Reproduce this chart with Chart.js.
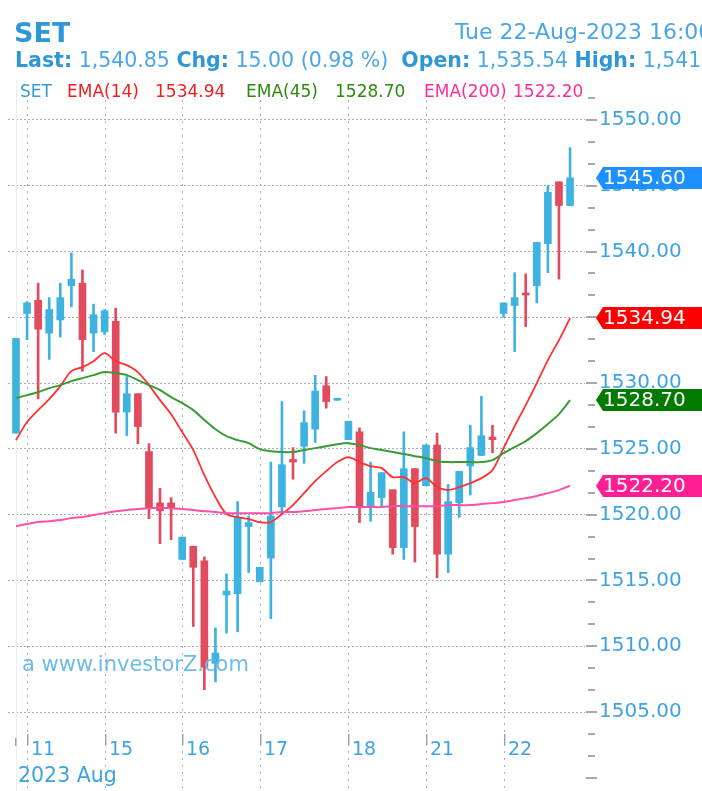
<!DOCTYPE html>
<html>
<head>
<meta charset="utf-8">
<script src="https://cdn.jsdelivr.net/npm/chart.js@4"></script>
<style>
  html, body { margin:0; padding:0; background:#fff; width:702px; height:791px; overflow:hidden; }
  body { position:relative; font-family:"DejaVu Sans", Verdana, sans-serif; }
  #chart { position:absolute; left:0; top:0; }
  .hdr { position:absolute; white-space:nowrap; overflow:hidden; }
  #title { left:14px; top:17px; font-size:27px; font-weight:bold; color:#2f97d8; }
  #stamp { left:455px; top:19px; font-size:22px; color:#4aa6e6; }
  #quote { left:15px; top:48px; font-size:20.5px; color:#4aa6e6; width:690px; }
  #quote b { color:#2f97d8; }
  #legend { left:0; top:81px; width:586px; height:24px; font-size:17px; }
  #legend span { position:absolute; top:0; }
  #mark { left:22px; top:652px; font-size:21px; color:#6dbbe8; }
</style>
</head>
<body>
<canvas id="chart" width="702" height="791"></canvas>
<div class="hdr" id="title">SET</div>
<div class="hdr" id="stamp">Tue 22-Aug-2023 16:00</div>
<div class="hdr" id="quote"><b>Last:</b> 1,540.85 <b>Chg:</b> 15.00 (0.98 %) &nbsp;<b>Open:</b> 1,535.54 <b>High:</b> 1,541.20</div>
<div class="hdr" id="legend">
  <span style="left:20px;color:#3a9ad9">SET</span>
  <span style="left:67px;color:#f02020">EMA(14)</span>
  <span style="left:155px;color:#f02020">1534.94</span>
  <span style="left:246px;color:#2e8a10">EMA(45)</span>
  <span style="left:335px;color:#2e8a10">1528.70</span>
  <span style="left:424px;color:#ff2d95">EMA(200)</span>
  <span style="left:513px;color:#ff2d95">1522.20</span>
</div>
<div class="hdr" id="mark">a www.investorZ.com</div>
<script>
// ================= DATA =================
const dayLabels = ["11", "15", "16", "17", "18", "21", "22"];
const dayStart = [1, 8, 15, 22, 30, 37, 44]; // candle index where each day starts
const monthLabel = "2023 Aug";
const yTicks = [1505, 1510, 1515, 1520, 1525, 1530, 1535, 1540, 1545, 1550];

const opens = [1526.2, 1535.3, 1536.3, 1533.8, 1534.8, 1537.4, 1537.6, 1533.8, 1533.9, 1534.7,
  1527.8, 1529.2, 1524.8, 1520.9, 1520.9, 1516.6, 1517.6, 1516.5, 1508.7, 1513.9,
  1514.0, 1519.1, 1514.9, 1516.7, 1520.6, 1524.2, 1525.2, 1526.5, 1529.8, 1528.7,
  1525.7, 1526.3, 1520.6, 1521.3, 1521.9, 1517.5, 1523.5, 1522.2, 1525.3, 1517.0,
  1520.9, 1523.7, 1524.5, 1525.9, 1535.3, 1535.9, 1536.8, 1537.4, 1540.6, 1545.3, 1543.5];
const highs = [1533.4, 1536.2, 1537.6, 1536.5, 1537.6, 1539.9, 1538.6, 1536.0, 1535.6, 1535.7,
  1530.5, 1529.2, 1525.4, 1522.0, 1521.3, 1518.3, 1517.6, 1516.8, 1511.4, 1515.5,
  1521.0, 1519.9, 1516.0, 1524.0, 1528.6, 1525.1, 1527.9, 1530.6, 1530.5, 1528.8,
  1527.1, 1526.6, 1524.0, 1523.2, 1521.9, 1526.3, 1523.5, 1525.3, 1526.2, 1522.3,
  1523.3, 1526.8, 1529.0, 1526.8, 1536.1, 1538.4, 1538.3, 1540.7, 1545.0, 1545.3, 1547.9];
const lows = [1526.2, 1533.3, 1528.8, 1531.8, 1533.5, 1535.8, 1530.9, 1532.4, 1533.7, 1526.2,
  1526.0, 1525.4, 1519.7, 1517.8, 1518.1, 1516.6, 1511.5, 1506.7, 1507.3, 1511.0,
  1511.1, 1515.6, 1514.9, 1512.1, 1520.0, 1522.7, 1523.9, 1525.5, 1528.1, 1528.7,
  1525.7, 1519.4, 1519.5, 1520.6, 1517.0, 1516.6, 1516.4, 1522.2, 1515.2, 1515.6,
  1519.8, 1521.5, 1524.5, 1524.7, 1535.0, 1532.4, 1534.3, 1536.1, 1538.4, 1537.9, 1543.5];
const closes = [1533.4, 1536.1, 1534.1, 1535.6, 1536.5, 1537.9, 1533.3, 1535.2, 1535.5, 1527.8,
  1529.2, 1526.7, 1520.5, 1520.3, 1520.5, 1518.3, 1516.0, 1508.4, 1509.5, 1514.2,
  1519.8, 1519.4, 1516.0, 1519.9, 1523.8, 1524.0, 1527.0, 1529.4, 1528.6, 1528.8,
  1527.1, 1520.6, 1521.7, 1523.2, 1517.5, 1523.5, 1519.1, 1525.3, 1517.0, 1521.0,
  1523.3, 1525.1, 1526.0, 1525.7, 1536.1, 1536.5, 1536.7, 1540.7, 1544.5, 1543.5, 1545.6];

const ema14 = [1525.67, 1527.04, 1527.95, 1528.78, 1529.77, 1530.91, 1531.22, 1531.67, 1532.28, 1531.67,
  1531.37, 1530.84, 1529.85, 1528.71, 1527.64, 1526.28, 1524.91, 1523.01, 1521.34, 1520.05,
  1519.82, 1519.67, 1519.44, 1519.44, 1520.05, 1520.73, 1521.64, 1522.55, 1523.31, 1524.00,
  1524.38, 1524.00, 1523.69, 1523.54, 1522.86, 1522.86, 1522.40, 1522.78, 1522.10, 1521.87,
  1522.10, 1522.40, 1522.78, 1523.39, 1525.06, 1526.73, 1528.33, 1530.00, 1531.75, 1533.27, 1534.94];
const ema45 = [1528.86, 1529.09, 1529.32, 1529.62, 1529.85, 1530.15, 1530.38, 1530.61, 1530.84, 1530.76,
  1530.61, 1530.23, 1529.85, 1529.47, 1528.94, 1528.48, 1527.95, 1527.19, 1526.50, 1525.97,
  1525.67, 1525.44, 1524.98, 1524.83, 1524.76, 1524.76, 1524.91, 1525.06, 1525.21, 1525.36,
  1525.44, 1525.29, 1525.06, 1524.91, 1524.76, 1524.61, 1524.45, 1524.30, 1524.07, 1524.00,
  1524.00, 1524.00, 1524.00, 1524.15, 1524.68, 1525.14, 1525.59, 1526.20, 1526.89, 1527.64, 1528.70];
const ema200 = [1519.13, 1519.29, 1519.44, 1519.51, 1519.59, 1519.74, 1519.82, 1519.97, 1520.12, 1520.27,
  1520.35, 1520.43, 1520.50, 1520.50, 1520.50, 1520.43, 1520.35, 1520.27, 1520.20, 1520.12,
  1520.12, 1520.12, 1520.12, 1520.12, 1520.20, 1520.20, 1520.27, 1520.35, 1520.43, 1520.50,
  1520.58, 1520.58, 1520.58, 1520.58, 1520.65, 1520.65, 1520.65, 1520.65, 1520.65, 1520.73,
  1520.73, 1520.73, 1520.81, 1520.88, 1520.96, 1521.11, 1521.26, 1521.42, 1521.64, 1521.87, 1522.20];

// ================= STYLE =================
const UP = "#3fb3e0";
const DOWN = "#e24a5d";
const GRID = "#a6adbd";
const TEXT = "#3ea3e2";
const FONT = "DejaVu Sans, Verdana, sans-serif";

const candleColors = closes.map((c, i) => (c >= opens[i] ? UP : DOWN));
const wickData = highs.map((h, i) => ({ x: i, y: [lows[i], h] }));
const bodyData = closes.map((c, i) => ({ x: i, y: [opens[i], c] }));
const line = (arr) => arr.map((v, i) => ({ x: i, y: v }));

// ================= OVERLAY =================
const overlay = {
  id: "overlay",
  beforeDatasetsDraw(chart) {
    const { ctx, scales } = chart;
    ctx.save();
    // faint line at the first candle
    ctx.strokeStyle = "#e4f1fb";
    ctx.lineWidth = 1;
    const x0 = Math.round(scales.x.getPixelForValue(0)) + 0.5;
    ctx.beginPath();
    ctx.moveTo(x0, 80);
    ctx.lineTo(x0, 791);
    ctx.stroke();

    ctx.strokeStyle = GRID;
    ctx.setLineDash([2, 5]);
    dayStart.forEach((i) => {
      const px = Math.round(scales.x.getPixelForValue(i)) + 0.5;
      ctx.beginPath();
      ctx.moveTo(px, 100);
      ctx.lineTo(px, 791);
      ctx.stroke();
    });
    ctx.restore();
  },
  afterDraw(chart) {
    const { ctx, scales } = chart;
    const x = scales.x, y = scales.y;
    ctx.save();

    // right axis dashes, 3 per 5 points
    ctx.fillStyle = "#a3a8b2";
    for (let k = 0; k <= 31; k++) {
      const v = 1500 + k * 5 / 3;
      const py = Math.round(y.getPixelForValue(v));
      const major = k % 3 === 0;
      ctx.fillRect(major ? 586 : 588, py - 1, major ? 11 : 7, 2);
    }

    // x axis ticks + labels
    ctx.fillStyle = "#9ea4ae";
    ctx.fillRect(Math.round(x.getPixelForValue(0)) - 1, 738, 1.5, 8);
    ctx.font = "19px " + FONT;
    ctx.textBaseline = "alphabetic";
    dayStart.forEach((i, n) => {
      const px = Math.round(x.getPixelForValue(i));
      ctx.fillStyle = "#9ea4ae";
      ctx.fillRect(px, 734, 1.5, 11);
      ctx.fillStyle = TEXT;
      ctx.fillText(dayLabels[n], px + 4, 755);
    });
    ctx.font = "20.5px " + FONT;
    ctx.fillText(monthLabel, 18, 782);

    // last value tags
    const tags = [
      [closes[closes.length - 1], "#1e8fff"],
      [ema14[ema14.length - 1], "#ff0000"],
      [ema45[ema45.length - 1], "#007a00"],
      [ema200[ema200.length - 1], "#ff1f93"]
    ];
    ctx.font = "20px " + FONT;
    ctx.textBaseline = "middle";
    tags.forEach(([v, col]) => {
      const py = Math.round(y.getPixelForValue(v));
      ctx.fillStyle = col;
      ctx.beginPath();
      ctx.moveTo(596, py);
      ctx.lineTo(603, py - 11);
      ctx.lineTo(702, py - 11);
      ctx.lineTo(702, py + 11);
      ctx.lineTo(603, py + 11);
      ctx.closePath();
      ctx.fill();
      ctx.fillStyle = "#ffffff";
      ctx.fillText(v.toFixed(2), 603, py + 1);
    });
    ctx.restore();
  }
};

// ================= CHART =================
new Chart(document.getElementById("chart"), {
  type: "bar",
  data: {
    datasets: [
      { type: "line", data: line(ema200), borderColor: "#ff4fab", borderWidth: 2, pointRadius: 0, tension: 0.3, order: 0 },
      { type: "line", data: line(ema45), borderColor: "#3a9a34", borderWidth: 2, pointRadius: 0, tension: 0.3, order: 0 },
      { type: "line", data: line(ema14), borderColor: "#ff3030", borderWidth: 1.8, pointRadius: 0, tension: 0.3, order: 0 },
      { data: bodyData, backgroundColor: candleColors, barThickness: 7, minBarLength: 2, grouped: false, order: 1 },
      { data: wickData, backgroundColor: candleColors, barThickness: 2, grouped: false, order: 2 }
    ]
  },
  options: {
    responsive: false,
    animation: false,
    devicePixelRatio: 1,
    layout: { padding: { top: 100, left: 8, right: 0, bottom: 0 } },
    plugins: { legend: { display: false }, tooltip: { enabled: false } },
    scales: {
      x: { type: "linear", min: -0.72, max: 51.35, offset: false, display: false },
      y: {
        position: "right",
        min: 1499.0,
        max: 1551.52,
        afterFit: (s) => { s.width = 117; s.paddingTop = 0; s.paddingBottom = 0; },
        afterBuildTicks: (s) => { s.ticks = yTicks.map((v) => ({ value: v })); },
        grid: { color: GRID, lineWidth: 1, drawTicks: false },
        border: { display: false, dash: [2, 2] },
        ticks: {
          color: TEXT,
          padding: 14,
          font: { family: FONT, size: 20 },
          callback: (v) => Number(v).toFixed(2)
        }
      }
    }
  },
  plugins: [overlay]
});
</script>
</body>
</html>
